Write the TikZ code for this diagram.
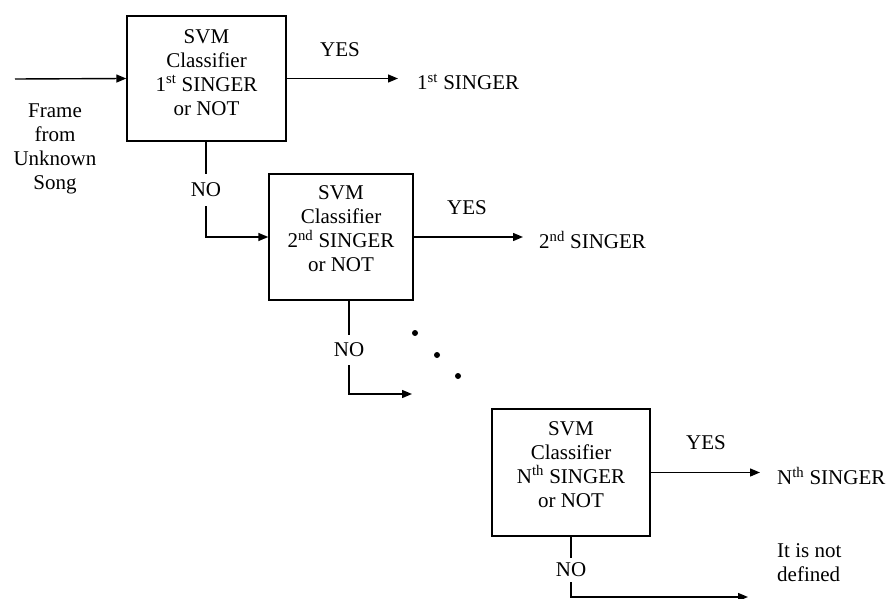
\documentclass[tikz,border=0pt]{standalone}
\usepackage{fontspec}
\setmainfont{Liberation Serif}
\usetikzlibrary{arrows.meta,calc}
\begin{document}
\begin{tikzpicture}[x=1pt,y=-1pt,
  every node/.style={font=\fontsize{21}{24}\selectfont, text=black},
  clsbox/.style={draw, line width=1.4pt, minimum width=#1, inner sep=0pt},
  boxtext/.style={align=center, inner sep=0pt},
  plain/.style={inner sep=0pt},
  nolabel/.style={inner xsep=2pt, inner ysep=#1},
  flow/.style={line width=1.4pt},
  arr/.style={flow, -{Triangle[length=10pt,width=8pt]}},
  dotmark/.style={circle, fill=black, inner sep=0pt, minimum size=6pt}
]
\useasboundingbox (0,0) rectangle (889,599);

% classifier boxes
\node[clsbox=159pt, minimum height=125pt] (b1) at (206.5,78.5) {};
\node[clsbox=144pt, minimum height=126pt] (b2) at (341,237) {};
\node[clsbox=158pt, minimum height=127pt] (b3) at (571,472.5) {};

\node[boxtext] (t1) at ($(b1.center)+(0,-6)$) {SVM\\Classifier\\1\textsuperscript{st} SINGER\\or NOT};
\node[boxtext] (t2) at ($(b2.center)+(0,-8)$) {SVM\\Classifier\\2\textsuperscript{nd} SINGER\\or NOT};
\node[boxtext] (t3) at ($(b3.center)+(0,-8)$) {SVM\\Classifier\\N\textsuperscript{th} SINGER\\or NOT};

% input
\coordinate (in) at (15,79);
\node[boxtext] (frame) at (55,149) {Frame\\from\\Unknown\\Song};
\draw[arr] (in) -- (b1.west);

% outputs
\node[plain, anchor=west] (o1) at (417,82) {1\textsuperscript{st} SINGER};
\node[plain, anchor=west] (o2) at (539,240) {2\textsuperscript{nd} SINGER};
\node[plain, anchor=west] (o3) at (777,476) {N\textsuperscript{th} SINGER};
\node[plain] (y1) at (340,50) {YES};
\node[plain] (y2) at (467,208) {YES};
\node[plain] (y3) at (706,443) {YES};
\draw[arr, shorten >=19pt] (b1.east) -- (b1.east -| o1.west);
\draw[arr, shorten >=16pt] (b2.east) -- (b2.east -| o2.west);
\draw[arr, shorten >=17pt] (b3.east) -- (b3.east -| o3.west);

% rejection branches
\node[nolabel=9pt] (n1) at (206,190) {NO};
\node[nolabel=8pt] (n2) at (349,350) {NO};
\node[nolabel=5pt] (n3) at (571,570) {NO};
\coordinate (c2) at (412,394);
\coordinate (c3) at (748,597);
\draw[flow] (b1.south -| n1.north) -- (n1.north);
\draw[arr] (n1.south) |- (b2.west);
\draw[flow] (b2.south -| n2.north) -- (n2.north);
\draw[arr] (n2.south) |- (c2);
\draw[flow] (b3.south) -- (n3.north);
\draw[arr] (n3.south) |- (c3);

\node[plain, align=left, anchor=north west] (undef) at (777,543) {It is not\\defined};

% continuation dots
\node[dotmark] (d1) at (415,333) {};
\node[dotmark] (d2) at (437,355) {};
\node[dotmark] (d3) at (458,376) {};
\end{tikzpicture}
\end{document}
